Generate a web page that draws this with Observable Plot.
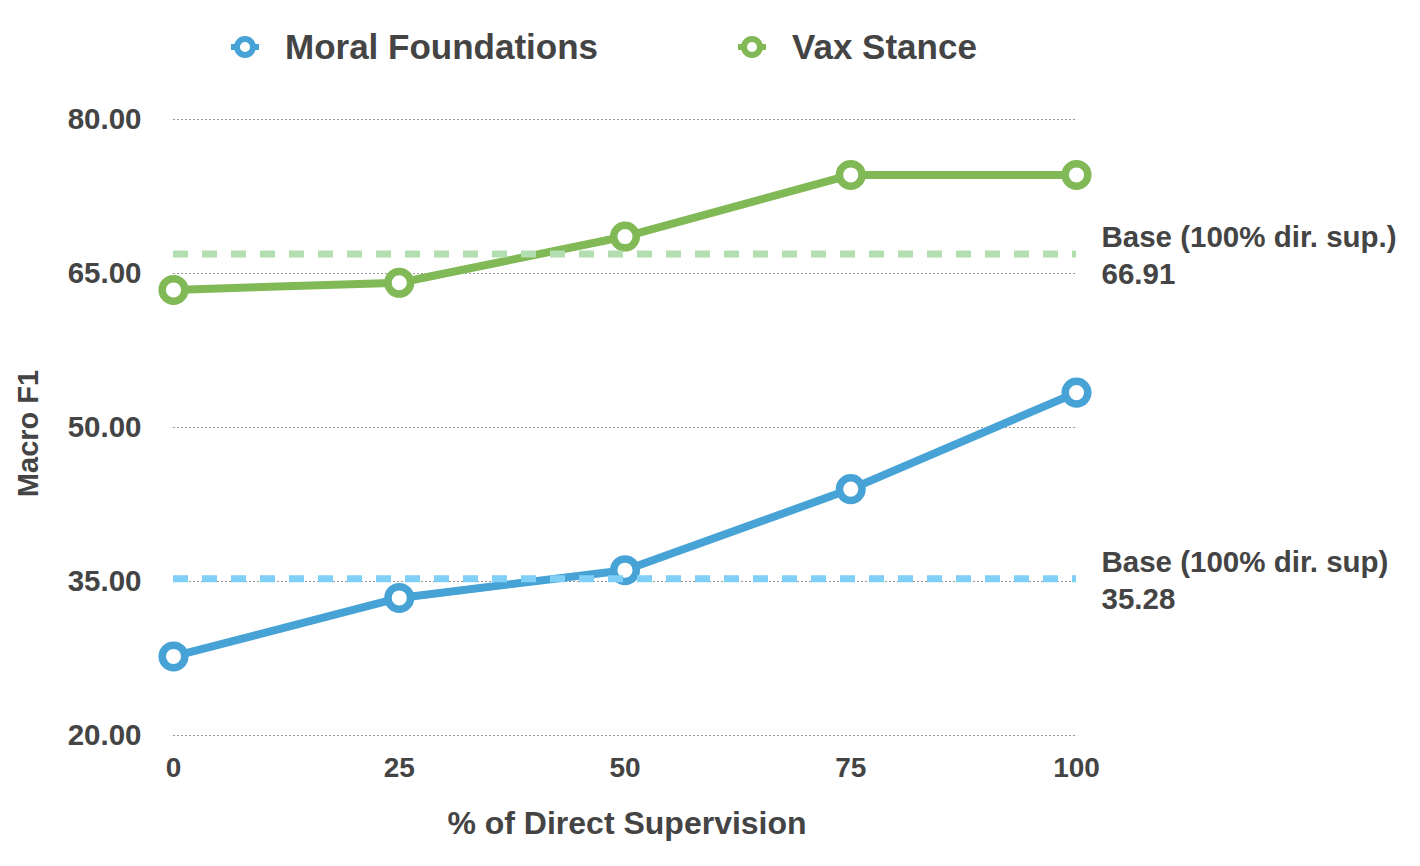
<!DOCTYPE html>
<html>
<head>
<meta charset="utf-8">
<script src="https://cdn.jsdelivr.net/npm/d3@7"></script>
<script src="https://cdn.jsdelivr.net/npm/@observablehq/plot@0.6"></script>
<style>
  html, body { margin: 0; padding: 0; background: #fff; }
  body { width: 1420px; height: 866px; overflow: hidden; font-family: "Liberation Sans", Arial, sans-serif; font-weight: bold; color: #444; }
  #legend { position: relative; height: 90px; width: 1420px; }
  .item { position: absolute; top: 0; height: 94px; display: flex; align-items: center; font-size: 35px; }
  .item svg { margin-right: 26px; }
</style>
</head>
<body>
<div id="legend"></div>
<div id="chart"></div>
<script>
const xs = [0, 25, 50, 75, 100];
const moral = [27.7, 33.4, 36.1, 44.0, 53.4];
const vax = [63.4, 64.1, 68.6, 74.6, 74.6];
const seriesNames = ["Moral Foundations", "Vax Stance"];
const colors = ["#47a3d6", "#80b956"];
const baseColors = ["#80cff6", "#b3deb0"];
const baseValues = [35.28, 66.91];
const baseLabels = ["Base (100% dir. sup)\n35.28", "Base (100% dir. sup.)\n66.91"];
const yTicks = [20, 35, 50, 65, 80];
const xTicks = [0, 25, 50, 75, 100];

const rows = [];
xs.forEach((x, i) => {
  rows.push({x, y: moral[i], s: seriesNames[0]});
  rows.push({x, y: vax[i], s: seriesNames[1]});
});
const bases = baseValues.map((v, i) => ({v, label: baseLabels[i], c: baseColors[i]}));

// legend
const legend = document.getElementById("legend");
const legendX = [231, 738];
seriesNames.forEach((name, i) => {
  const d = document.createElement("div");
  d.className = "item";
  d.style.left = legendX[i] + "px";
  d.innerHTML = `<svg width="28" height="28" viewBox="-14 -14 28 28">
    <line x1="-14" x2="14" y1="0" y2="0" stroke="${colors[i]}" stroke-width="6"/>
    <circle r="8" fill="#fff" stroke="${colors[i]}" stroke-width="6"/></svg><span>${name}</span>`;
  legend.appendChild(d);
});

const font = "Liberation Sans, Arial, sans-serif";
const chart = Plot.plot({
  width: 1420,
  height: 776,
  marginLeft: 173,
  marginRight: 344,
  marginTop: 29,
  marginBottom: 131,
  style: {fontFamily: font, fontWeight: "bold", color: "#444", background: "#fff", overflow: "visible"},
  x: {domain: [0, 100]},
  y: {domain: [20, 80]},
  color: {domain: seriesNames, range: colors},
  marks: [
    Plot.ruleY(yTicks, {x1: 0, x2: 100, stroke: "#999", strokeWidth: 1, strokeDasharray: "2,2"}),
    Plot.axisY(yTicks, {tickSize: 0, tickPadding: 32, fontSize: 29.5, fill: "#444", tickFormat: d => d.toFixed(2), label: null}),
    Plot.axisX(xTicks, {tickSize: 0, tickPadding: 22, fontSize: 28, fill: "#444", label: null}),
    Plot.line(rows, {x: "x", y: "y", z: "s", stroke: "s", strokeWidth: 8}),
    Plot.dot(rows, {x: "x", y: "y", stroke: "s", r: 11.3, strokeWidth: 7.5, fill: "#fff"}),
    Plot.ruleY(bases, {y: "v", x1: 0, x2: 100, stroke: "c", strokeWidth: 7, strokeDasharray: "15,14"}),
    Plot.text(bases, {x: () => 100, y: "v", text: "label", dx: 25, textAnchor: "start", lineAnchor: "middle", lineHeight: 1.24, fontSize: 29.5, fill: "#444"}),
    Plot.text(["Macro F1"], {frameAnchor: "left", textAnchor: "middle", rotate: -90, dx: -145, dy: 6, fontSize: 29, fill: "#444"}),
    Plot.text(["% of Direct Supervision"], {frameAnchor: "bottom", textAnchor: "middle", dy: 88, dx: 2, fontSize: 32, fill: "#444", lineAnchor: "middle"})
  ]
});
document.getElementById("chart").appendChild(chart);
</script>
</body>
</html>
